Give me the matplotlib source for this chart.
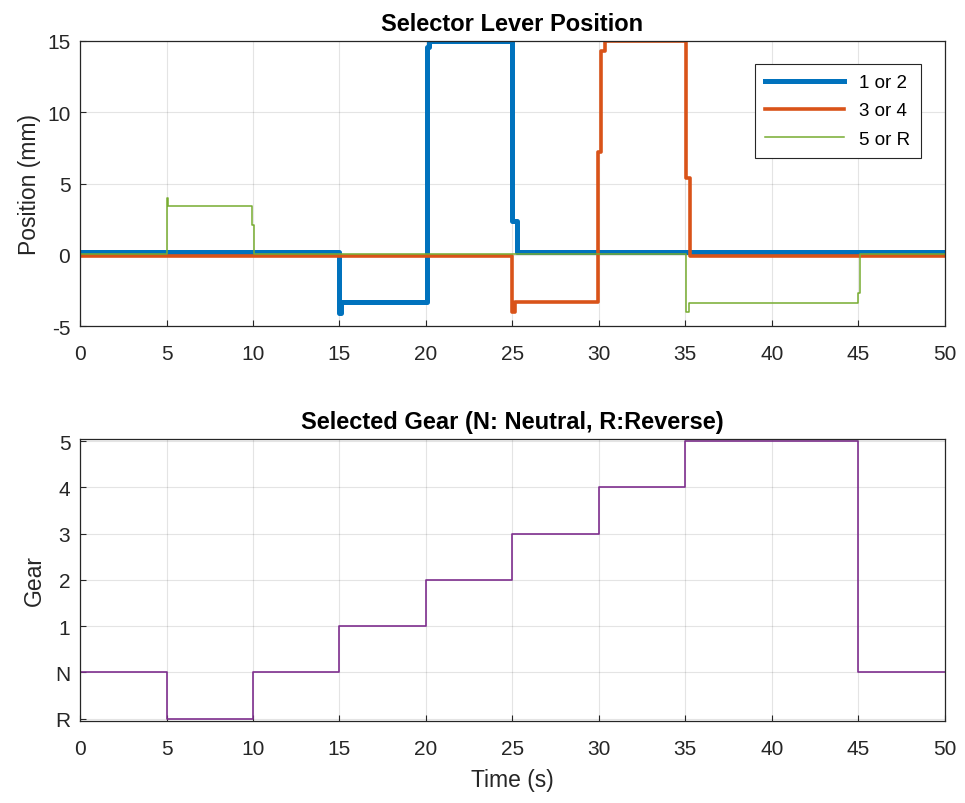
import matplotlib
matplotlib.use("Agg")
import matplotlib.pyplot as plt

plt.rcParams['font.family'] = ['Liberation Sans', 'DejaVu Sans']
plt.rcParams['axes.unicode_minus'] = False

# lever position signals (time breakpoints, values held until next breakpoint)
t_12 = [0, 15, 15.1, 20.05, 20.15, 25.0, 25.25, 50]
pos_12 = [0.2, -4.1, -3.3, 14.6, 15.0, 2.4, 0.2, 0.2]

t_34 = [0, 25.0, 25.15, 29.95, 30.15, 30.35, 35.05, 35.25, 50]
pos_34 = [-0.1, -4.0, -3.3, 7.2, 14.3, 15.0, 5.4, -0.1, -0.1]

t_5r = [0, 5.0, 5.1, 9.95, 10.05, 35.05, 35.2, 45.0, 45.1, 50]
pos_5r = [0.05, 4.0, 3.45, 2.1, 0.05, -4.0, -3.35, -2.7, 0.05, 0.05]

# selected gear (-1 = R, 0 = N)
t_gear = [0, 5, 10, 15, 20, 25, 30, 35, 45, 50]
gear = [0, -1, 0, 1, 2, 3, 4, 5, 0, 0]
gear_ticks = [-1, 0, 1, 2, 3, 4, 5]
gear_labels = ['R', 'N', '1', '2', '3', '4', '5']

c_blue = '#0072BD'
c_orange = '#D95319'
c_green = '#77AC30'
c_purple = '#7E2F8E'
dark = '#262626'

fig = plt.figure(figsize=(9.65, 8.04), dpi=100)
ax1 = fig.add_axes([0.083, 0.593, 0.896, 0.355])
ax2 = fig.add_axes([0.083, 0.102, 0.896, 0.351])


def style(ax):
    ax.set_xlim(0, 50)
    ax.set_xticks(range(0, 51, 5))
    ax.grid(True, color=dark, alpha=0.12, linewidth=0.8)
    ax.tick_params(direction='in', length=4, width=0.8, colors=dark,
                   labelsize=15, top=False, right=False)
    ax.tick_params(axis='x', pad=13)
    ax.tick_params(axis='y', pad=7)
    for s in ax.spines.values():
        s.set_color(dark)
        s.set_linewidth(0.9)


ax1.plot(t_12, pos_12, drawstyle='steps-post', color=c_blue, lw=3.6, label='1 or 2')
ax1.plot(t_34, pos_34, drawstyle='steps-post', color=c_orange, lw=2.6, label='3 or 4')
ax1.plot(t_5r, pos_5r, drawstyle='steps-post', color=c_green, lw=1.1, label='5 or R')
style(ax1)
ax1.set_ylim(-5, 15)
ax1.set_yticks([-5, 0, 5, 10, 15])
ax1.set_ylabel('Position (mm)', fontsize=16.5, color=dark, labelpad=4)
ax1.set_title('Selector Lever Position', fontsize=17, fontweight='bold', color='black', pad=8)
leg = ax1.legend(loc='upper right', bbox_to_anchor=(0.972, 0.92), borderaxespad=0,
                 fontsize=13.5, fancybox=False, framealpha=1, edgecolor=dark,
                 handlelength=4.2, borderpad=0.55, labelspacing=0.6)
leg.get_frame().set_linewidth(0.8)

ax2.plot(t_gear, gear, drawstyle='steps-post', color=c_purple, lw=1.2)
style(ax2)
ax2.set_ylim(-1.05, 5.05)
ax2.set_yticks(gear_ticks)
ax2.set_yticklabels(gear_labels)
ax2.set_ylabel('Gear', fontsize=16.5, color=dark, labelpad=7)
ax2.set_xlabel('Time (s)', fontsize=16.5, color=dark, labelpad=7)
ax2.set_title('Selected Gear (N: Neutral, R:Reverse)', fontsize=17, fontweight='bold',
              color='black', pad=8)

fig.savefig('out.png', dpi=100)
